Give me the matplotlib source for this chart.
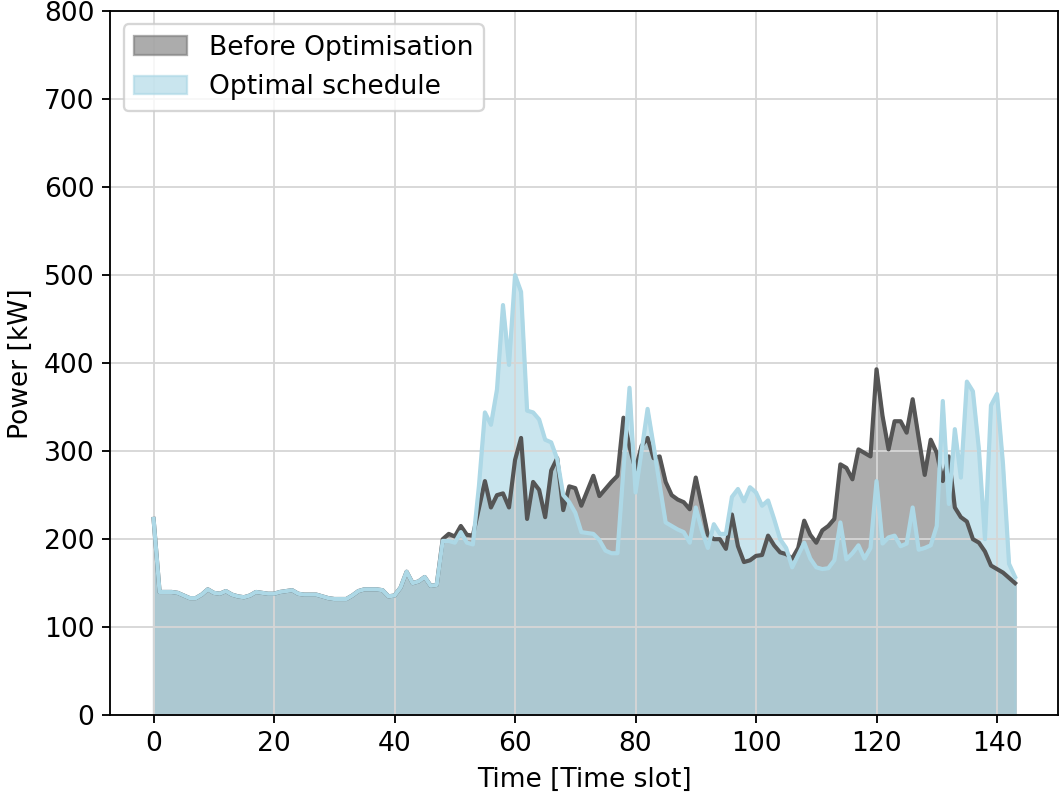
import numpy as np
import matplotlib
matplotlib.use("Agg")
import matplotlib.pyplot as plt

plt.rcParams['font.size'] = 11.5

# time slots 0..143
time_slot = np.arange(144)

# load before optimisation [kW]
before = [
    223, 140, 140, 140, 139, 136, 133, 133, 137, 143,
    139, 138, 141, 137, 135, 134, 136, 140, 139, 138,
    138, 140, 141, 142, 138, 137, 137, 137, 135, 133,
    132, 132, 132, 136, 141, 143, 143, 143, 142, 135,
    136, 145, 163, 150, 152, 157, 147, 148, 200, 206,
    203, 215, 205, 204, 235, 266, 236, 250, 252, 236,
    290, 315, 223, 265, 256, 225, 278, 292, 233, 260,
    258, 238, 255, 272, 249, 257, 265, 272, 338, 305,
    279, 306, 315, 292, 294, 265, 250, 245, 242, 234,
    270, 238, 205, 200, 200, 189, 228, 192, 174, 176,
    181, 182, 204, 193, 185, 183, 178, 190, 221, 205,
    196, 210, 215, 223, 285, 281, 268, 302, 298, 294,
    393, 340, 302, 334, 334, 321, 359, 315, 273, 313,
    298, 266, 294, 236, 225, 220, 200, 196, 186, 170,
    166, 162, 156, 150,
]

# optimal schedule [kW]
optimal = [
    223, 140, 140, 140, 139, 136, 133, 133, 137, 143,
    139, 138, 141, 137, 135, 134, 136, 140, 139, 138,
    138, 140, 141, 142, 138, 137, 137, 137, 135, 133,
    132, 132, 132, 136, 141, 143, 143, 143, 142, 135,
    136, 145, 163, 150, 152, 157, 147, 148, 198, 198,
    196, 208, 196, 194, 260, 344, 330, 370, 466, 398,
    500, 481, 346, 344, 336, 313, 310, 291, 250, 242,
    230, 208, 207, 206, 199, 187, 184, 184, 280, 372,
    253, 300, 348, 306, 262, 219, 215, 211, 208, 196,
    236, 210, 190, 217, 206, 206, 248, 257, 243, 259,
    253, 238, 244, 223, 200, 190, 168, 182, 196, 178,
    168, 166, 167, 176, 219, 177, 184, 193, 178, 190,
    266, 195, 202, 204, 192, 195, 236, 188, 190, 193,
    215, 357, 240, 325, 270, 379, 368, 302, 200, 352,
    365, 285, 172, 157,
]

fig, ax = plt.subplots(figsize=(6.4, 4.82), dpi=166)

ax.fill_between(time_slot, before, color='grey', alpha=0.65, label='Before Optimisation')
ax.fill_between(time_slot, optimal, color='lightblue', alpha=0.65, label='Optimal schedule')
ax.plot(time_slot, before, color='#555555', linewidth=1.8)
ax.plot(time_slot, optimal, color='lightblue', linewidth=1.8)

ax.set_ylim(0, 800)
ax.set_xticks(np.arange(0, 141, 20))
ax.set_xlabel("Time [Time slot]")
ax.set_ylabel("Power [kW]")
ax.grid(True, color='#d6d6d6')
ax.legend(loc='upper left')

plt.subplots_adjust(left=0.104, right=0.996, top=0.986, bottom=0.106)
plt.savefig("out.png")
